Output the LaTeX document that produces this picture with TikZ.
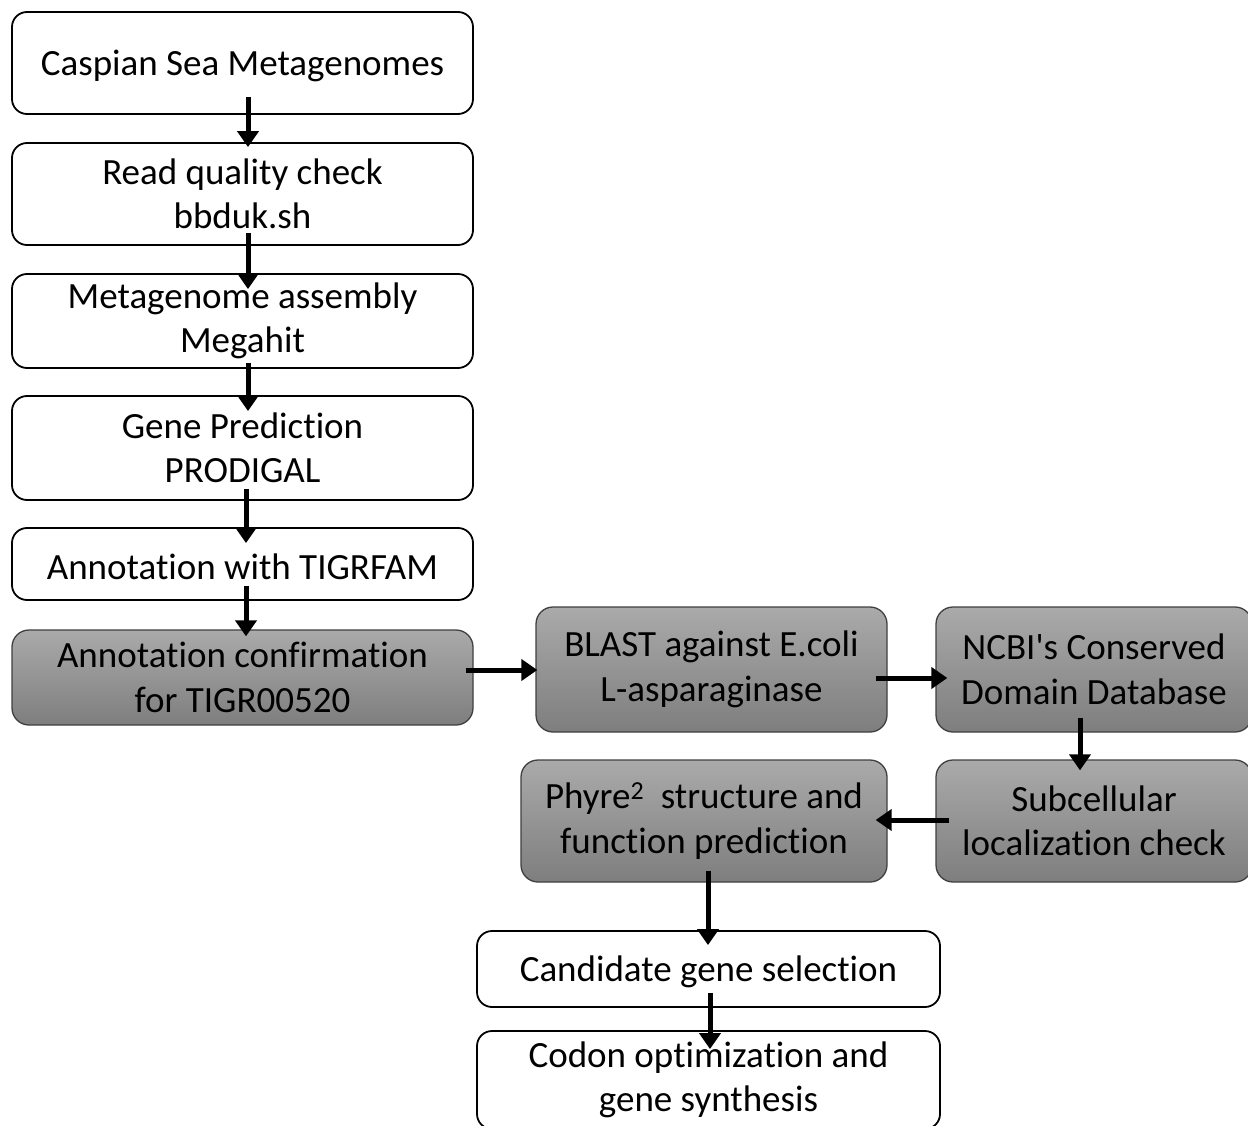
\documentclass[tikz,border=0pt]{standalone}
\usepackage{fontspec}
\setmainfont{Carlito}[Ligatures=NoCommon]
\usetikzlibrary{arrows.meta}
\newcommand{\lowtext}[1]{\raisebox{-3pt}[\height][\depth]{#1}}
\newcommand{\zk}{\kern0pt{}}
\begin{document}
\begin{tikzpicture}[x=1pt,y=-1pt,
  every node/.style={font=\fontsize{37}{44.5}\selectfont, align=center, inner sep=0pt},
  wbox/.style={draw=black, line width=1.8pt, rounded corners=15pt, fill=white},
  gbox/.style={draw=black!75, line width=1.3pt, rounded corners=17pt,
     top color={rgb,255:red,170;green,170;blue,170}, bottom color={rgb,255:red,126;green,126;blue,126}},
  arr/.style={line width=5pt, -{Triangle[width=21pt,length=16pt]}}]
\useasboundingbox (0,0) rectangle (1248,1126);
\fill[white] (0,0) rectangle (1248,1126);
\node[wbox, minimum width=461pt, minimum height=102pt] (n1) at (242.5,63) {\lowtext{Caspian Sea Metagenomes}};
\node[wbox, minimum width=461pt, minimum height=102pt] (n2) at (242.5,194) {Read quality check\\bbduk.sh};
\node[wbox, minimum width=461pt, minimum height=94pt] (n3) at (242.5,321) {Metagenome assembly\\Megahit};
\node[wbox, minimum width=461pt, minimum height=104pt] (n4) at (242.5,448) {Gene Predict\zk ion\\PRODIGAL};
\node[wbox, minimum width=461pt, minimum height=72pt] (n5) at (242.5,564) {\lowtext{Annotat\zk ion with TIGRFAM}};
\node[gbox, minimum width=461pt, minimum height=95pt] (n6) at (242.5,677.5) {Annotat\zk ion conf\zk irmat\zk ion\\for TIGR00520};
\node[gbox, minimum width=351pt, minimum height=125pt] (n7) at (711.5,669.5) {BLAST against E.coli\\L-asparaginase};
\node[gbox, minimum width=316pt, minimum height=125pt] (n8) at (1094,669.5) {NCBI\textquotesingle s Conserved\\Domain Database};
\node[gbox, minimum width=316pt, minimum height=122pt] (n9) at (1094,821) {Subcellular\\localizat\zk ion check};
\node[gbox, minimum width=366pt, minimum height=122pt] (n10) at (704,821) {Phyre\textsuperscript{2}\ \ structure and\\funct\zk ion predict\zk ion};
\node[wbox, minimum width=463pt, minimum height=76pt] (n11) at (708.5,969) {\lowtext{Candidate gene select\zk ion}};
\node[wbox, minimum width=463pt, minimum height=98pt] (n12) at (708.5,1080) {Codon opt\zk imizat\zk ion and\\gene synthesis};
\draw[arr] ([xshift=5.5pt,yshift=18pt]n1.south) -- ([xshift=5.5pt,yshift=-5pt]n2.north);
\draw[arr] ([xshift=5.5pt,yshift=13pt]n2.south) -- ([xshift=5.5pt,yshift=-16pt]n3.north);
\draw[arr] ([xshift=5.5pt,yshift=6pt]n3.south) -- ([xshift=5.5pt,yshift=-16pt]n4.north);
\draw[arr] ([xshift=3.5pt,yshift=12pt]n4.south) -- ([xshift=3.5pt,yshift=-16pt]n5.north);
\draw[arr] ([xshift=3.5pt,yshift=15pt]n5.south) -- ([xshift=3.5pt,yshift=-7pt]n6.north);
\draw[arr] ([xshift=-8pt,yshift=7.5pt]n6.east) -- ([xshift=2pt,yshift=-0.5pt]n7.west);
\draw[arr] ([xshift=-12pt,yshift=-8.5pt]n7.east) -- ([xshift=12pt,yshift=-8.5pt]n8.west);
\draw[arr] ([xshift=-14pt,yshift=15pt]n8.south) -- ([xshift=-14pt,yshift=-11pt]n9.north);
\draw[arr] ([xshift=14pt,yshift=1pt]n9.west) -- ([xshift=-12pt,yshift=1pt]n10.east);
\draw[arr] ([xshift=4pt,yshift=12pt]n10.south) -- ([xshift=-0.5pt,yshift=-15pt]n11.north);
\draw[arr] ([xshift=1.5pt,yshift=15pt]n11.south) -- ([xshift=1.5pt,yshift=-19pt]n12.north);
\end{tikzpicture}
\end{document}
